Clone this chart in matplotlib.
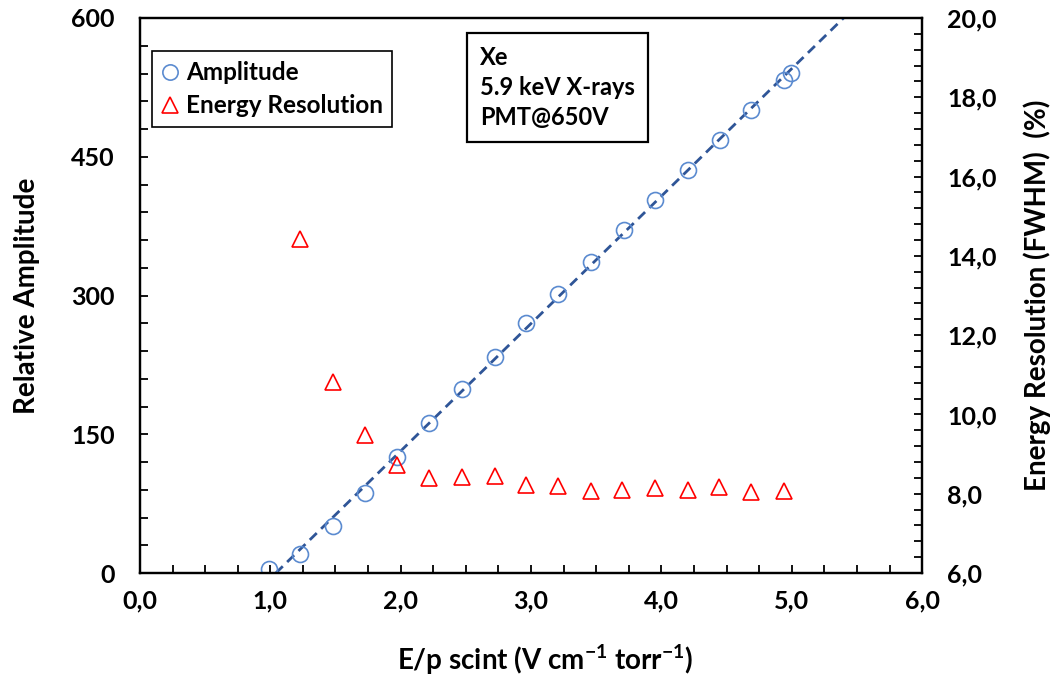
import numpy as np
import matplotlib.pyplot as plt
from matplotlib.ticker import MultipleLocator, FixedLocator, FixedFormatter
from matplotlib.lines import Line2D

plt.rcParams['font.family'] = ['Lato', 'DejaVu Sans']
plt.rcParams['font.weight'] = 'bold'
plt.rcParams['mathtext.default'] = 'regular'

# reduced scintillation field E/p (V cm-1 torr-1)
ep_amp = [0.99, 1.23, 1.48, 1.73, 1.97, 2.22, 2.47, 2.72, 2.96, 3.21,
          3.46, 3.71, 3.95, 4.20, 4.45, 4.69, 4.94, 4.99]
amplitude = [4, 21, 51, 87, 125, 162, 199, 234, 270, 302,
             336, 371, 403, 436, 468, 501, 533, 541]

ep_res = [1.23, 1.48, 1.73, 1.97, 2.22, 2.47, 2.72, 2.96, 3.21,
          3.46, 3.70, 3.95, 4.20, 4.44, 4.69, 4.94]
resolution = [14.43, 10.83, 9.48, 8.72, 8.39, 8.43, 8.45, 8.22, 8.19,
              8.07, 8.09, 8.14, 8.09, 8.16, 8.05, 8.08]

x_ticks = [0, 1, 2, 3, 4, 5, 6]
x_labels = ['0,0', '1,0', '2,0', '3,0', '4,0', '5,0', '6,0']
amp_ticks = [0, 150, 300, 450, 600]
res_ticks = [6, 8, 10, 12, 14, 16, 18, 20]
res_labels = ['6,0', '8,0', '10,0', '12,0', '14,0', '16,0', '18,0', '20,0']

fig = plt.figure(figsize=(10.6, 6.79), dpi=100)
ax = fig.add_axes([0.132, 0.156, 0.738, 0.8175])
ax2 = ax.twinx()

# linear fit of amplitude vs field
slope, icpt = np.polyfit(ep_amp, amplitude, 1)
x0 = -icpt / slope
xf = np.array([x0, 6.0])
ax.plot(xf, slope * xf + icpt, color='#2f5597', lw=2.0, dashes=(3.5, 2.2), zorder=3)

ax.plot(ep_amp, amplitude, 'o', ms=11.5, mfc='none', mec='#5b8bd0', mew=1.2, zorder=4)
ax2.plot(ep_res, resolution, '^', ms=11, mfc='none', mec='#ff0000', mew=1.2)

ax.set_xlim(0, 6)
ax.set_ylim(0, 600)
ax2.set_ylim(6, 20)

ax.xaxis.set_major_locator(FixedLocator(x_ticks))
ax.xaxis.set_major_formatter(FixedFormatter(x_labels))
ax.xaxis.set_minor_locator(MultipleLocator(0.25))
ax.yaxis.set_major_locator(FixedLocator(amp_ticks))
ax.yaxis.set_minor_locator(MultipleLocator(30))
ax2.yaxis.set_major_locator(FixedLocator(res_ticks))
ax2.yaxis.set_major_formatter(FixedFormatter(res_labels))
ax2.yaxis.set_minor_locator(MultipleLocator(0.4))

for a in (ax, ax2):
    for s in a.spines.values():
        s.set_linewidth(1.6)
ax.tick_params(axis='x', which='both', direction='in', length=6, width=1.3,
               labelsize=18, pad=12)
ax.tick_params(axis='y', which='both', direction='in', length=6, width=1.3,
               labelsize=18, pad=18)
ax2.tick_params(axis='y', which='both', direction='in', length=6, width=1.3,
                labelsize=18, pad=18)

ax.set_xlabel('E/p scint (V cm$^{-1}$ torr$^{-1}$)', fontsize=20, fontweight='bold')
ax.xaxis.set_label_coords(0.518, -0.125)
ax.set_ylabel('Relative Amplitude', fontsize=20, fontweight='bold')
ax.yaxis.set_label_coords(-0.128, 0.5)
ax2.set_ylabel('Energy Resolution (FWHM)  (%)', fontsize=20, fontweight='bold')
ax2.yaxis.set_label_coords(1.13, 0.5)

handles = [
    Line2D([], [], ls='none', marker='o', ms=11, mfc='none', mec='#5b8bd0', mew=1.2),
    Line2D([], [], ls='none', marker='^', ms=11, mfc='none', mec='#ff0000', mew=1.2),
]
leg = ax.legend(handles, ['Amplitude', 'Energy Resolution'], loc='upper left',
                bbox_to_anchor=(0.015, 0.94), fancybox=False, edgecolor='black',
                framealpha=1, fontsize=17.5, handlelength=0.7, handletextpad=0.3,
                borderpad=0.4, labelspacing=0.42, borderaxespad=0)
leg.get_frame().set_linewidth(1.2)

ax.text(0.435, 0.9495, 'Xe\n5.9 keV X-rays\nPMT@650V', transform=ax.transAxes,
        fontsize=17, fontweight='bold', va='top', ha='left', linespacing=1.38,
        bbox=dict(boxstyle='square,pad=0.55', fc='white', ec='black', lw=1.6))

fig.savefig('out.png', dpi=100)
